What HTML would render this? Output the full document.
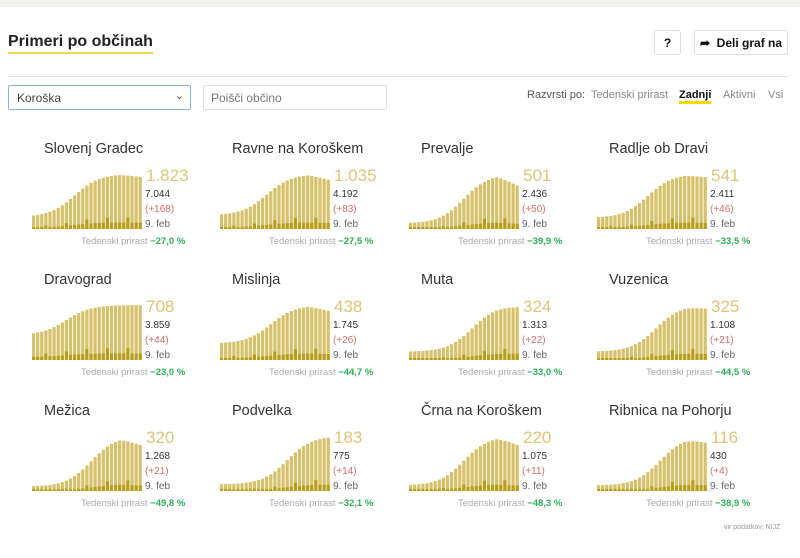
<!DOCTYPE html>
<html><head><meta charset="utf-8">
<style>
*{margin:0;padding:0;box-sizing:border-box}
body{width:800px;height:558px;background:#fff;font-family:"Liberation Sans",sans-serif;position:relative;overflow:hidden;color:#333}
.topbar{position:absolute;left:0;top:0;width:800px;height:7px;background:#f2f2ee}
.abs{position:absolute;white-space:nowrap}
h1{position:absolute;left:8px;top:33px;font-size:16px;font-weight:bold;color:#222;border-bottom:2px solid #f5d84a;line-height:18px;padding-bottom:1px}
.btn{position:absolute;border:1px solid #ddd;border-radius:3px;font-weight:bold;font-size:12px;color:#111;display:flex;align-items:center;justify-content:center}
.hr{position:absolute;left:8px;top:76px;width:780px;height:1px;background:#e4e4e4}
.sel{position:absolute;left:8px;top:85px;width:183px;height:25px;border:1px solid #8ab4e0;border-radius:2px;font-size:12px;color:#444;padding:5px 0 0 8px}
.inp{position:absolute;left:203px;top:85px;width:184px;height:25px;border:1px solid #ddd;border-radius:2px;font-size:12px;color:#777;padding:5px 0 0 7px}
.sort{position:absolute;top:89px;font-size:11px;color:#888}
.t{font-size:14.5px;color:#333}
.big{font-size:17px;color:#dcc579}
.n{font-size:10px;color:#333}
.r{font-size:10px;color:#d0706a}
.d{font-size:10px;color:#666}
.f{font-size:9.5px;color:#aaa}
.f b{color:#2fae5a;font-weight:bold}
</style></head><body>
<div class="topbar"></div>
<h1>Primeri po občinah</h1>
<div class="btn" style="left:654px;top:30px;width:27px;height:25px">?</div>
<div class="btn" style="left:694px;top:30px;width:94px;height:25px">➦&nbsp;&nbsp;Deli graf na</div>
<div class="hr"></div>
<div class="sel">Koroška<span style="position:absolute;right:6px;top:3px;font-size:11px">⌄</span></div>
<div class="inp">Poišči občino</div>
<div class="sort" style="left:527px;color:#555">Razvrsti po:</div>
<div class="sort" style="left:591px">Tedenski prirast</div>
<div class="sort" style="left:679px;color:#111;font-weight:bold;border-bottom:3px solid #f5d800;line-height:12px">Zadnji</div>
<div class="sort" style="left:723px">Aktivni</div>
<div class="sort" style="left:768px">Vsi</div>
<div id="g"></div>
<div class="abs" style="left:724px;top:524px;font-size:7px;color:#999">vir podatkov: NIJZ</div>
<script>
const data=[
["Slovenj Gradec","1.823","7.044","(+168)","−27,0 %",0.22,10,0.05],
["Ravne na Koroškem","1.035","4.192","(+83)","−27,5 %",0.25,11,0.1],
["Prevalje","501","2.436","(+50)","−39,9 %",0.1,13,0.2],
["Radlje ob Dravi","541","2.411","(+46)","−33,5 %",0.2,12,0.05],
["Dravograd","708","3.859","(+44)","−23,0 %",0.45,8,0.0],
["Mislinja","438","1.745","(+26)","−44,7 %",0.3,12,0.1],
["Muta","324","1.313","(+22)","−33,0 %",0.15,15,0.02],
["Vuzenica","325","1.108","(+21)","−44,5 %",0.15,14,0.05],
["Mežica","320","1.268","(+21)","−49,8 %",0.08,14,0.15],
["Podvelka","183","775","(+14)","−32,1 %",0.12,16,0.0],
["Črna na Koroškem","220","1.075","(+11)","−48,3 %",0.1,13,0.15],
["Ribnica na Pohorju","116","430","(+4)","−38,9 %",0.1,15,0.1]];
const cols=[32,220,409,597],rows=[0,131,262];
let h="";
data.forEach((d,k)=>{
 const x=cols[k%4],y0=rows[Math.floor(k/4)];
 h+=`<div class="abs t" style="left:${x+12}px;top:${y0+141}px">${d[0]}</div>`;
 h+=`<div class="abs big" style="left:${x+114}px;top:${y0+166}px">${d[1]}</div>`;
 h+=`<div class="abs n" style="left:${x+113}px;top:${y0+189}px">${d[2]}</div>`;
 h+=`<div class="abs r" style="left:${x+113}px;top:${y0+204}px">${d[3]}</div>`;
 h+=`<div class="abs d" style="left:${x+113}px;top:${y0+219}px">9. feb</div>`;
 h+=`<div class="abs f" style="left:${x+49}px;top:${y0+236}px">Tedenski prirast <b>${d[4]}</b></div>`;
 let s=`<svg class="abs" style="left:${x}px;top:${y0+172}px" width="112" height="57">`;
 const n=27,H=55;
 for(let i=0;i<n;i++){
  let v=d[5]+(1-d[5])/(1+Math.exp(-(i-d[6])/3));
  if(i>n-6)v*=1-d[7]*(i-(n-6))/5;
  const bh=v*H,bx=i*4.1;
  s+=`<rect x="${bx}" y="${57-bh}" width="3.2" height="${bh}" fill="#d6c06a"/>`;
  const dh=Math.max(2,bh*0.12*(i%5==3?1.8:1));
  s+=`<rect x="${bx}" y="${57-dh}" width="3.2" height="${dh}" fill="#b79d18"/>`;
 }
 s+=`</svg>`;h+=s;
});
document.getElementById("g").innerHTML=h;
</script>
</body></html>
